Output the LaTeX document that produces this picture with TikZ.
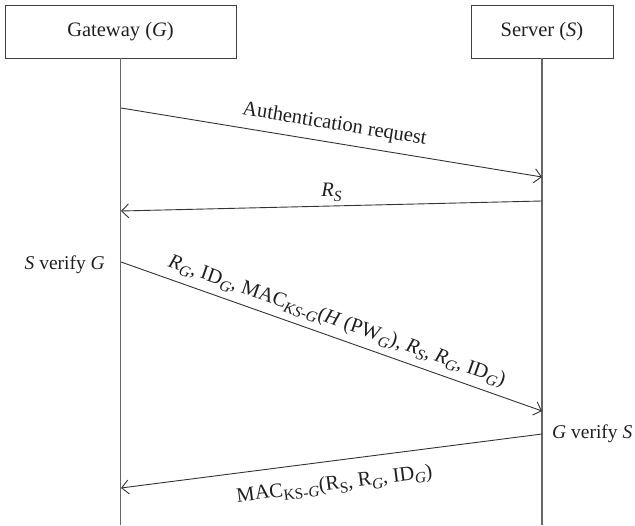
\documentclass[tikz,border=0pt]{standalone}
\usepackage{fontspec}
\setmainfont{Liberation Serif}
\usetikzlibrary{arrows.meta}
% subscripts set a little larger than \textsubscript gives
\newcommand\sbs[1]{\raisebox{-0.45ex}{\fontsize{15.5bp}{16bp}\selectfont #1}}
\begin{document}
\begin{tikzpicture}[x=1bp,y=-1bp,
  every node/.style={font=\fontsize{20.5bp}{24bp}\selectfont, text=black!88},
  actor/.style={draw=black!75, line width=0.8bp, minimum height=53bp, inner sep=0pt},
  life/.style={draw=black!60, line width=1.2bp},
  msg/.style={draw=black!80, line width=0.9bp, -{Straight Barb[length=7bp,width=14bp]}},
  note/.style={font=\fontsize{19.5bp}{23bp}\selectfont, inner sep=0pt},
]
\useasboundingbox (0,0) rectangle (635,526);

% participants
\node[actor, minimum width=231bp] (G) at (120.5,31.5) {Gateway (\textit{G})};
\node[actor, minimum width=142bp] (S) at (542,31.5) {Server (\textit{S})};

% lifelines
\coordinate (Gend) at (120.5,525);
\coordinate (Send) at (542,525);
\draw[life] (G.south) -- (Gend);
\draw[life] (S.south) -- (Send);

% message end points on the lifelines
\coordinate (g1) at (121,108);
\coordinate (s1) at (542,177);
\coordinate (s2) at (542,201);
\coordinate (g2) at (121,211);
\coordinate (g3) at (121,262);
\coordinate (s3) at (542,411);
\coordinate (s4) at (542,434);
\coordinate (g4) at (121,488);

% messages
\draw[msg] (g1) -- node[midway, above=5bp, sloped] {Authentication request} (s1);
\draw[msg] (s2) -- node[midway, above=1bp] {\textit{R}\sbs{\textit{S}}} (g2);
\draw[msg] (g3) -- node[midway, above=3bp, sloped]
  {\textit{R}\sbs{\textit{G}}, ID\sbs{\textit{G}}, MAC\sbs{\textit{KS-G}}(\textit{H} (PW\sbs{\textit{G}}), \textit{R}\sbs{\textit{S}}, \textit{R}\sbs{\textit{G}}, ID\sbs{\textit{G}})} (s3);
\draw[msg] (s4) -- node[midway, below=11bp, sloped]
  {MAC\sbs{KS-\textit{G}}(R\sbs{S}, R\sbs{\textit{G}}, ID\sbs{\textit{G}})} (g4);

% verification notes
\node[note, anchor=east] (sv) at (105,265) {\textit{S} verify \textit{G}};
\node[note, anchor=west] (gv) at (552,434) {\textit{G} verify \textit{S}};
\end{tikzpicture}
\end{document}
